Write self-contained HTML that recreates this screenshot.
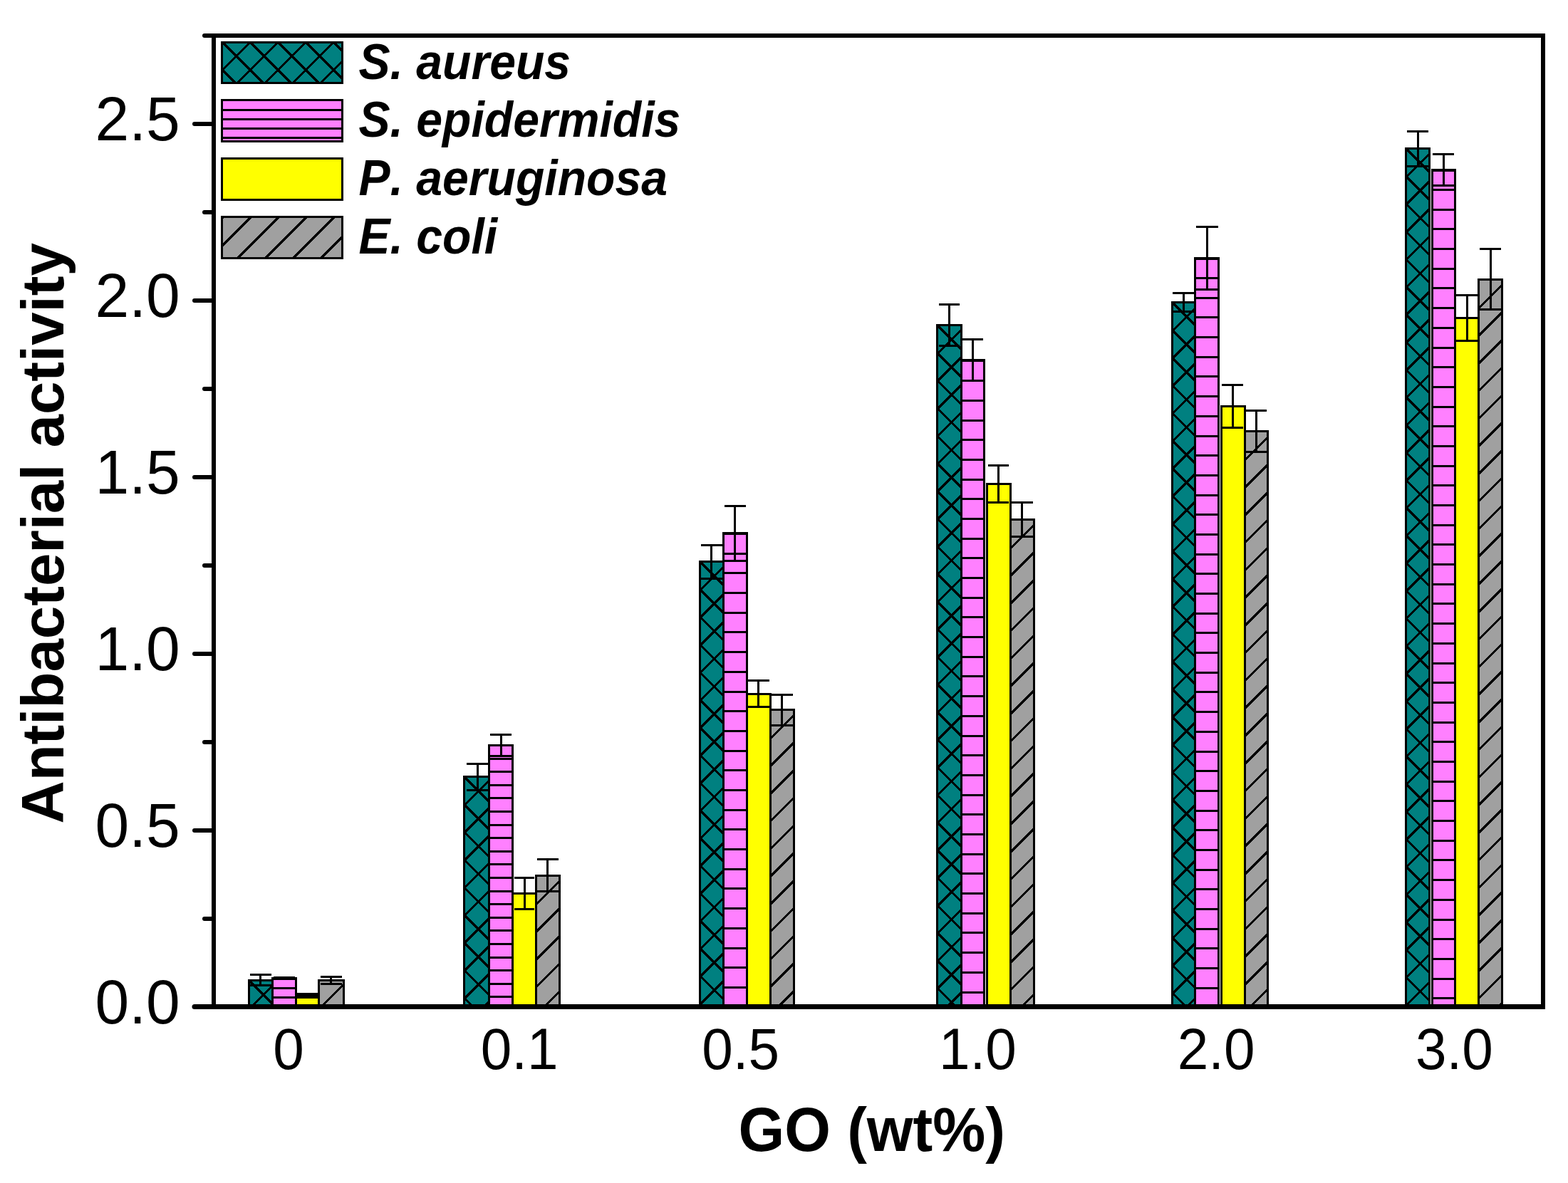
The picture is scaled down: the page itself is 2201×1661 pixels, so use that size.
<!DOCTYPE html>
<html lang="en"><head><meta charset="utf-8"><title>Antibacterial activity vs GO (wt%)</title>
<style>html,body{margin:0;padding:0;background:#fff;}body{width:2201px;height:1661px;overflow:hidden;}svg{display:block;}text{font-family:"Liberation Sans",Arial,Helvetica,sans-serif;fill:#000;font-kerning:none;font-variant-ligatures:none;}</style></head><body>
<svg width="2201" height="1661" viewBox="0 0 2201 1661" role="img" aria-label="Bar chart of antibacterial activity versus GO content">
<rect width="2201" height="1661" fill="#fff"/>
<g id="bars">
<rect x="348" y="1375" width="36" height="39" fill="#008080" shape-rendering="crispEdges"/><clipPath id="c1"><rect x="348" y="1375" width="36" height="39"/></clipPath><g clip-path="url(#c1)" stroke="#000" stroke-width="3.2" fill="none" shape-rendering="crispEdges"><path d="M343.00 1307.09L389.00 1261.09M343.00 1345.86L389.00 1299.86M343.00 1384.63L389.00 1338.63M343.00 1423.40L389.00 1377.40M343.00 1462.17L389.00 1416.17M343.00 1500.94L389.00 1454.94M343.00 1486.51L389.00 1532.51M343.00 1447.74L389.00 1493.74M343.00 1408.97L389.00 1454.97M343.00 1370.20L389.00 1416.20M343.00 1331.43L389.00 1377.43M343.00 1292.66L389.00 1338.66"/></g><rect x="349.5" y="1376.5" width="33" height="36" fill="none" stroke="#000" stroke-width="3" shape-rendering="crispEdges"/>
<rect x="364" y="1367" width="3" height="18" fill="#000" shape-rendering="crispEdges"/><rect x="351" y="1367" width="30" height="3" fill="#000" shape-rendering="crispEdges"/><rect x="351" y="1382" width="30" height="3" fill="#000" shape-rendering="crispEdges"/>
<rect x="650" y="1089" width="38" height="325" fill="#008080" shape-rendering="crispEdges"/><clipPath id="c2"><rect x="650" y="1089" width="38" height="325"/></clipPath><g clip-path="url(#c2)" stroke="#000" stroke-width="3.2" fill="none" shape-rendering="crispEdges"><path d="M645.00 1021.09L693.00 973.09M645.00 1059.86L693.00 1011.86M645.00 1098.63L693.00 1050.63M645.00 1137.40L693.00 1089.40M645.00 1176.17L693.00 1128.17M645.00 1214.94L693.00 1166.94M645.00 1253.71L693.00 1205.71M645.00 1292.48L693.00 1244.48M645.00 1331.25L693.00 1283.25M645.00 1370.02L693.00 1322.02M645.00 1408.79L693.00 1360.79M645.00 1447.56L693.00 1399.56M645.00 1486.33L693.00 1438.33M645.00 1525.10L693.00 1477.10M645.00 1471.90L693.00 1519.90M645.00 1433.13L693.00 1481.13M645.00 1394.36L693.00 1442.36M645.00 1355.59L693.00 1403.59M645.00 1316.82L693.00 1364.82M645.00 1278.05L693.00 1326.05M645.00 1239.28L693.00 1287.28M645.00 1200.51L693.00 1248.51M645.00 1161.74L693.00 1209.74M645.00 1122.97L693.00 1170.97M645.00 1084.20L693.00 1132.20M645.00 1045.43L693.00 1093.43M645.00 1006.66L693.00 1054.66"/></g><rect x="651.5" y="1090.5" width="35" height="322" fill="none" stroke="#000" stroke-width="3" shape-rendering="crispEdges"/>
<rect x="669" y="1071" width="3" height="40" fill="#000" shape-rendering="crispEdges"/><rect x="655" y="1071" width="30" height="3" fill="#000" shape-rendering="crispEdges"/><rect x="655" y="1108" width="30" height="3" fill="#000" shape-rendering="crispEdges"/>
<rect x="981" y="787" width="36" height="627" fill="#008080" shape-rendering="crispEdges"/><clipPath id="c3"><rect x="981" y="787" width="36" height="627"/></clipPath><g clip-path="url(#c3)" stroke="#000" stroke-width="3.2" fill="none" shape-rendering="crispEdges"><path d="M976.00 719.09L1022.00 673.09M976.00 757.86L1022.00 711.86M976.00 796.63L1022.00 750.63M976.00 835.40L1022.00 789.40M976.00 874.17L1022.00 828.17M976.00 912.94L1022.00 866.94M976.00 951.71L1022.00 905.71M976.00 990.48L1022.00 944.48M976.00 1029.25L1022.00 983.25M976.00 1068.02L1022.00 1022.02M976.00 1106.79L1022.00 1060.79M976.00 1145.56L1022.00 1099.56M976.00 1184.33L1022.00 1138.33M976.00 1223.10L1022.00 1177.10M976.00 1261.87L1022.00 1215.87M976.00 1300.64L1022.00 1254.64M976.00 1339.41L1022.00 1293.41M976.00 1378.18L1022.00 1332.18M976.00 1416.95L1022.00 1370.95M976.00 1455.72L1022.00 1409.72M976.00 1494.49L1022.00 1448.49M976.00 1480.06L1022.00 1526.06M976.00 1441.29L1022.00 1487.29M976.00 1402.52L1022.00 1448.52M976.00 1363.75L1022.00 1409.75M976.00 1324.98L1022.00 1370.98M976.00 1286.21L1022.00 1332.21M976.00 1247.44L1022.00 1293.44M976.00 1208.67L1022.00 1254.67M976.00 1169.90L1022.00 1215.90M976.00 1131.13L1022.00 1177.13M976.00 1092.36L1022.00 1138.36M976.00 1053.59L1022.00 1099.59M976.00 1014.82L1022.00 1060.82M976.00 976.05L1022.00 1022.05M976.00 937.28L1022.00 983.28M976.00 898.51L1022.00 944.51M976.00 859.74L1022.00 905.74M976.00 820.97L1022.00 866.97M976.00 782.20L1022.00 828.20M976.00 743.43L1022.00 789.43M976.00 704.66L1022.00 750.66"/></g><rect x="982.5" y="788.5" width="33" height="624" fill="none" stroke="#000" stroke-width="3" shape-rendering="crispEdges"/>
<rect x="997" y="764" width="3" height="50" fill="#000" shape-rendering="crispEdges"/><rect x="984" y="764" width="30" height="3" fill="#000" shape-rendering="crispEdges"/><rect x="984" y="811" width="30" height="3" fill="#000" shape-rendering="crispEdges"/>
<rect x="1314" y="455" width="37" height="959" fill="#008080" shape-rendering="crispEdges"/><clipPath id="c4"><rect x="1314" y="455" width="37" height="959"/></clipPath><g clip-path="url(#c4)" stroke="#000" stroke-width="3.2" fill="none" shape-rendering="crispEdges"><path d="M1309.00 387.09L1356.00 340.09M1309.00 425.86L1356.00 378.86M1309.00 464.63L1356.00 417.63M1309.00 503.40L1356.00 456.40M1309.00 542.17L1356.00 495.17M1309.00 580.94L1356.00 533.94M1309.00 619.71L1356.00 572.71M1309.00 658.48L1356.00 611.48M1309.00 697.25L1356.00 650.25M1309.00 736.02L1356.00 689.02M1309.00 774.79L1356.00 727.79M1309.00 813.56L1356.00 766.56M1309.00 852.33L1356.00 805.33M1309.00 891.10L1356.00 844.10M1309.00 929.87L1356.00 882.87M1309.00 968.64L1356.00 921.64M1309.00 1007.41L1356.00 960.41M1309.00 1046.18L1356.00 999.18M1309.00 1084.95L1356.00 1037.95M1309.00 1123.72L1356.00 1076.72M1309.00 1162.49L1356.00 1115.49M1309.00 1201.26L1356.00 1154.26M1309.00 1240.03L1356.00 1193.03M1309.00 1278.80L1356.00 1231.80M1309.00 1317.57L1356.00 1270.57M1309.00 1356.34L1356.00 1309.34M1309.00 1395.11L1356.00 1348.11M1309.00 1433.88L1356.00 1386.88M1309.00 1472.65L1356.00 1425.65M1309.00 1511.42L1356.00 1464.42M1309.00 1458.22L1356.00 1505.22M1309.00 1419.45L1356.00 1466.45M1309.00 1380.68L1356.00 1427.68M1309.00 1341.91L1356.00 1388.91M1309.00 1303.14L1356.00 1350.14M1309.00 1264.37L1356.00 1311.37M1309.00 1225.60L1356.00 1272.60M1309.00 1186.83L1356.00 1233.83M1309.00 1148.06L1356.00 1195.06M1309.00 1109.29L1356.00 1156.29M1309.00 1070.52L1356.00 1117.52M1309.00 1031.75L1356.00 1078.75M1309.00 992.98L1356.00 1039.98M1309.00 954.21L1356.00 1001.21M1309.00 915.44L1356.00 962.44M1309.00 876.67L1356.00 923.67M1309.00 837.90L1356.00 884.90M1309.00 799.13L1356.00 846.13M1309.00 760.36L1356.00 807.36M1309.00 721.59L1356.00 768.59M1309.00 682.82L1356.00 729.82M1309.00 644.05L1356.00 691.05M1309.00 605.28L1356.00 652.28M1309.00 566.51L1356.00 613.51M1309.00 527.74L1356.00 574.74M1309.00 488.97L1356.00 535.97M1309.00 450.20L1356.00 497.20M1309.00 411.43L1356.00 458.43M1309.00 372.66L1356.00 419.66"/></g><rect x="1315.5" y="456.5" width="34" height="956" fill="none" stroke="#000" stroke-width="3" shape-rendering="crispEdges"/>
<rect x="1331" y="426" width="3" height="61" fill="#000" shape-rendering="crispEdges"/><rect x="1318" y="426" width="29" height="3" fill="#000" shape-rendering="crispEdges"/><rect x="1318" y="484" width="29" height="3" fill="#000" shape-rendering="crispEdges"/>
<rect x="1644" y="423" width="35" height="991" fill="#008080" shape-rendering="crispEdges"/><clipPath id="c5"><rect x="1644" y="423" width="35" height="991"/></clipPath><g clip-path="url(#c5)" stroke="#000" stroke-width="3.2" fill="none" shape-rendering="crispEdges"><path d="M1639.00 355.09L1684.00 310.09M1639.00 393.86L1684.00 348.86M1639.00 432.63L1684.00 387.63M1639.00 471.40L1684.00 426.40M1639.00 510.17L1684.00 465.17M1639.00 548.94L1684.00 503.94M1639.00 587.71L1684.00 542.71M1639.00 626.48L1684.00 581.48M1639.00 665.25L1684.00 620.25M1639.00 704.02L1684.00 659.02M1639.00 742.79L1684.00 697.79M1639.00 781.56L1684.00 736.56M1639.00 820.33L1684.00 775.33M1639.00 859.10L1684.00 814.10M1639.00 897.87L1684.00 852.87M1639.00 936.64L1684.00 891.64M1639.00 975.41L1684.00 930.41M1639.00 1014.18L1684.00 969.18M1639.00 1052.95L1684.00 1007.95M1639.00 1091.72L1684.00 1046.72M1639.00 1130.49L1684.00 1085.49M1639.00 1169.26L1684.00 1124.26M1639.00 1208.03L1684.00 1163.03M1639.00 1246.80L1684.00 1201.80M1639.00 1285.57L1684.00 1240.57M1639.00 1324.34L1684.00 1279.34M1639.00 1363.11L1684.00 1318.11M1639.00 1401.88L1684.00 1356.88M1639.00 1440.65L1684.00 1395.65M1639.00 1479.42L1684.00 1434.42M1639.00 1518.19L1684.00 1473.19M1639.00 1464.99L1684.00 1509.99M1639.00 1426.22L1684.00 1471.22M1639.00 1387.45L1684.00 1432.45M1639.00 1348.68L1684.00 1393.68M1639.00 1309.91L1684.00 1354.91M1639.00 1271.14L1684.00 1316.14M1639.00 1232.37L1684.00 1277.37M1639.00 1193.60L1684.00 1238.60M1639.00 1154.83L1684.00 1199.83M1639.00 1116.06L1684.00 1161.06M1639.00 1077.29L1684.00 1122.29M1639.00 1038.52L1684.00 1083.52M1639.00 999.75L1684.00 1044.75M1639.00 960.98L1684.00 1005.98M1639.00 922.21L1684.00 967.21M1639.00 883.44L1684.00 928.44M1639.00 844.67L1684.00 889.67M1639.00 805.90L1684.00 850.90M1639.00 767.13L1684.00 812.13M1639.00 728.36L1684.00 773.36M1639.00 689.59L1684.00 734.59M1639.00 650.82L1684.00 695.82M1639.00 612.05L1684.00 657.05M1639.00 573.28L1684.00 618.28M1639.00 534.51L1684.00 579.51M1639.00 495.74L1684.00 540.74M1639.00 456.97L1684.00 501.97M1639.00 418.20L1684.00 463.20M1639.00 379.43L1684.00 424.43M1639.00 340.66L1684.00 385.66"/></g><rect x="1645.5" y="424.5" width="32" height="988" fill="none" stroke="#000" stroke-width="3" shape-rendering="crispEdges"/>
<rect x="1660" y="410" width="3" height="29" fill="#000" shape-rendering="crispEdges"/><rect x="1646" y="410" width="30" height="3" fill="#000" shape-rendering="crispEdges"/><rect x="1646" y="436" width="30" height="3" fill="#000" shape-rendering="crispEdges"/>
<rect x="1972" y="207" width="36" height="1207" fill="#008080" shape-rendering="crispEdges"/><clipPath id="c6"><rect x="1972" y="207" width="36" height="1207"/></clipPath><g clip-path="url(#c6)" stroke="#000" stroke-width="3.2" fill="none" shape-rendering="crispEdges"><path d="M1967.00 139.09L2013.00 93.09M1967.00 177.86L2013.00 131.86M1967.00 216.63L2013.00 170.63M1967.00 255.40L2013.00 209.40M1967.00 294.17L2013.00 248.17M1967.00 332.94L2013.00 286.94M1967.00 371.71L2013.00 325.71M1967.00 410.48L2013.00 364.48M1967.00 449.25L2013.00 403.25M1967.00 488.02L2013.00 442.02M1967.00 526.79L2013.00 480.79M1967.00 565.56L2013.00 519.56M1967.00 604.33L2013.00 558.33M1967.00 643.10L2013.00 597.10M1967.00 681.87L2013.00 635.87M1967.00 720.64L2013.00 674.64M1967.00 759.41L2013.00 713.41M1967.00 798.18L2013.00 752.18M1967.00 836.95L2013.00 790.95M1967.00 875.72L2013.00 829.72M1967.00 914.49L2013.00 868.49M1967.00 953.26L2013.00 907.26M1967.00 992.03L2013.00 946.03M1967.00 1030.80L2013.00 984.80M1967.00 1069.57L2013.00 1023.57M1967.00 1108.34L2013.00 1062.34M1967.00 1147.11L2013.00 1101.11M1967.00 1185.88L2013.00 1139.88M1967.00 1224.65L2013.00 1178.65M1967.00 1263.42L2013.00 1217.42M1967.00 1302.19L2013.00 1256.19M1967.00 1340.96L2013.00 1294.96M1967.00 1379.73L2013.00 1333.73M1967.00 1418.50L2013.00 1372.50M1967.00 1457.27L2013.00 1411.27M1967.00 1496.04L2013.00 1450.04M1967.00 1481.61L2013.00 1527.61M1967.00 1442.84L2013.00 1488.84M1967.00 1404.07L2013.00 1450.07M1967.00 1365.30L2013.00 1411.30M1967.00 1326.53L2013.00 1372.53M1967.00 1287.76L2013.00 1333.76M1967.00 1248.99L2013.00 1294.99M1967.00 1210.22L2013.00 1256.22M1967.00 1171.45L2013.00 1217.45M1967.00 1132.68L2013.00 1178.68M1967.00 1093.91L2013.00 1139.91M1967.00 1055.14L2013.00 1101.14M1967.00 1016.37L2013.00 1062.37M1967.00 977.60L2013.00 1023.60M1967.00 938.83L2013.00 984.83M1967.00 900.06L2013.00 946.06M1967.00 861.29L2013.00 907.29M1967.00 822.52L2013.00 868.52M1967.00 783.75L2013.00 829.75M1967.00 744.98L2013.00 790.98M1967.00 706.21L2013.00 752.21M1967.00 667.44L2013.00 713.44M1967.00 628.67L2013.00 674.67M1967.00 589.90L2013.00 635.90M1967.00 551.13L2013.00 597.13M1967.00 512.36L2013.00 558.36M1967.00 473.59L2013.00 519.59M1967.00 434.82L2013.00 480.82M1967.00 396.05L2013.00 442.05M1967.00 357.28L2013.00 403.28M1967.00 318.51L2013.00 364.51M1967.00 279.74L2013.00 325.74M1967.00 240.97L2013.00 286.97M1967.00 202.20L2013.00 248.20M1967.00 163.43L2013.00 209.43M1967.00 124.66L2013.00 170.66"/></g><rect x="1973.5" y="208.5" width="33" height="1204" fill="none" stroke="#000" stroke-width="3" shape-rendering="crispEdges"/>
<rect x="1989" y="183" width="3" height="52" fill="#000" shape-rendering="crispEdges"/><rect x="1975" y="183" width="30" height="3" fill="#000" shape-rendering="crispEdges"/><rect x="1975" y="232" width="30" height="3" fill="#000" shape-rendering="crispEdges"/>
<rect x="381" y="1372" width="36" height="42" fill="#FF80FF" shape-rendering="crispEdges"/><clipPath id="c7"><rect x="381" y="1372" width="36" height="42"/></clipPath><g clip-path="url(#c7)" stroke="#000" stroke-width="3.2" fill="none" shape-rendering="crispEdges"></g><rect x="381" y="1373" width="36" height="3" fill="#000" clip-path="url(#c7)" shape-rendering="crispEdges"/><rect x="381" y="1386" width="36" height="3" fill="#000" clip-path="url(#c7)" shape-rendering="crispEdges"/><rect x="381" y="1399" width="36" height="3" fill="#000" clip-path="url(#c7)" shape-rendering="crispEdges"/><rect x="381" y="1412" width="36" height="3" fill="#000" clip-path="url(#c7)" shape-rendering="crispEdges"/><rect x="382.5" y="1373.5" width="33" height="39" fill="none" stroke="#000" stroke-width="3" shape-rendering="crispEdges"/>
<rect x="384" y="1371" width="30" height="3" fill="#000" shape-rendering="crispEdges"/><rect x="384" y="1373" width="30" height="3" fill="#000" shape-rendering="crispEdges"/>
<rect x="685" y="1045" width="36" height="369" fill="#FF80FF" shape-rendering="crispEdges"/><clipPath id="c8"><rect x="685" y="1045" width="36" height="369"/></clipPath><g clip-path="url(#c8)" stroke="#000" stroke-width="3.2" fill="none" shape-rendering="crispEdges"></g><rect x="685" y="1045" width="36" height="3" fill="#000" clip-path="url(#c8)" shape-rendering="crispEdges"/><rect x="685" y="1064" width="36" height="3" fill="#000" clip-path="url(#c8)" shape-rendering="crispEdges"/><rect x="685" y="1082" width="36" height="3" fill="#000" clip-path="url(#c8)" shape-rendering="crispEdges"/><rect x="685" y="1101" width="36" height="3" fill="#000" clip-path="url(#c8)" shape-rendering="crispEdges"/><rect x="685" y="1119" width="36" height="3" fill="#000" clip-path="url(#c8)" shape-rendering="crispEdges"/><rect x="685" y="1138" width="36" height="3" fill="#000" clip-path="url(#c8)" shape-rendering="crispEdges"/><rect x="685" y="1157" width="36" height="3" fill="#000" clip-path="url(#c8)" shape-rendering="crispEdges"/><rect x="685" y="1175" width="36" height="3" fill="#000" clip-path="url(#c8)" shape-rendering="crispEdges"/><rect x="685" y="1194" width="36" height="3" fill="#000" clip-path="url(#c8)" shape-rendering="crispEdges"/><rect x="685" y="1212" width="36" height="3" fill="#000" clip-path="url(#c8)" shape-rendering="crispEdges"/><rect x="685" y="1231" width="36" height="3" fill="#000" clip-path="url(#c8)" shape-rendering="crispEdges"/><rect x="685" y="1250" width="36" height="3" fill="#000" clip-path="url(#c8)" shape-rendering="crispEdges"/><rect x="685" y="1268" width="36" height="3" fill="#000" clip-path="url(#c8)" shape-rendering="crispEdges"/><rect x="685" y="1287" width="36" height="3" fill="#000" clip-path="url(#c8)" shape-rendering="crispEdges"/><rect x="685" y="1305" width="36" height="3" fill="#000" clip-path="url(#c8)" shape-rendering="crispEdges"/><rect x="685" y="1324" width="36" height="3" fill="#000" clip-path="url(#c8)" shape-rendering="crispEdges"/><rect x="685" y="1343" width="36" height="3" fill="#000" clip-path="url(#c8)" shape-rendering="crispEdges"/><rect x="685" y="1361" width="36" height="3" fill="#000" clip-path="url(#c8)" shape-rendering="crispEdges"/><rect x="685" y="1380" width="36" height="3" fill="#000" clip-path="url(#c8)" shape-rendering="crispEdges"/><rect x="685" y="1398" width="36" height="3" fill="#000" clip-path="url(#c8)" shape-rendering="crispEdges"/><rect x="686.5" y="1046.5" width="33" height="366" fill="none" stroke="#000" stroke-width="3" shape-rendering="crispEdges"/>
<rect x="702" y="1030" width="3" height="33" fill="#000" shape-rendering="crispEdges"/><rect x="688" y="1030" width="30" height="3" fill="#000" shape-rendering="crispEdges"/><rect x="688" y="1060" width="30" height="3" fill="#000" shape-rendering="crispEdges"/>
<rect x="1014" y="747" width="36" height="667" fill="#FF80FF" shape-rendering="crispEdges"/><clipPath id="c9"><rect x="1014" y="747" width="36" height="667"/></clipPath><g clip-path="url(#c9)" stroke="#000" stroke-width="3.2" fill="none" shape-rendering="crispEdges"></g><rect x="1014" y="748" width="36" height="3" fill="#000" clip-path="url(#c9)" shape-rendering="crispEdges"/><rect x="1014" y="776" width="36" height="3" fill="#000" clip-path="url(#c9)" shape-rendering="crispEdges"/><rect x="1014" y="803" width="36" height="3" fill="#000" clip-path="url(#c9)" shape-rendering="crispEdges"/><rect x="1014" y="831" width="36" height="3" fill="#000" clip-path="url(#c9)" shape-rendering="crispEdges"/><rect x="1014" y="859" width="36" height="3" fill="#000" clip-path="url(#c9)" shape-rendering="crispEdges"/><rect x="1014" y="886" width="36" height="3" fill="#000" clip-path="url(#c9)" shape-rendering="crispEdges"/><rect x="1014" y="914" width="36" height="3" fill="#000" clip-path="url(#c9)" shape-rendering="crispEdges"/><rect x="1014" y="942" width="36" height="3" fill="#000" clip-path="url(#c9)" shape-rendering="crispEdges"/><rect x="1014" y="970" width="36" height="3" fill="#000" clip-path="url(#c9)" shape-rendering="crispEdges"/><rect x="1014" y="997" width="36" height="3" fill="#000" clip-path="url(#c9)" shape-rendering="crispEdges"/><rect x="1014" y="1025" width="36" height="3" fill="#000" clip-path="url(#c9)" shape-rendering="crispEdges"/><rect x="1014" y="1053" width="36" height="3" fill="#000" clip-path="url(#c9)" shape-rendering="crispEdges"/><rect x="1014" y="1080" width="36" height="3" fill="#000" clip-path="url(#c9)" shape-rendering="crispEdges"/><rect x="1014" y="1108" width="36" height="3" fill="#000" clip-path="url(#c9)" shape-rendering="crispEdges"/><rect x="1014" y="1136" width="36" height="3" fill="#000" clip-path="url(#c9)" shape-rendering="crispEdges"/><rect x="1014" y="1163" width="36" height="3" fill="#000" clip-path="url(#c9)" shape-rendering="crispEdges"/><rect x="1014" y="1191" width="36" height="3" fill="#000" clip-path="url(#c9)" shape-rendering="crispEdges"/><rect x="1014" y="1219" width="36" height="3" fill="#000" clip-path="url(#c9)" shape-rendering="crispEdges"/><rect x="1014" y="1246" width="36" height="3" fill="#000" clip-path="url(#c9)" shape-rendering="crispEdges"/><rect x="1014" y="1274" width="36" height="3" fill="#000" clip-path="url(#c9)" shape-rendering="crispEdges"/><rect x="1014" y="1302" width="36" height="3" fill="#000" clip-path="url(#c9)" shape-rendering="crispEdges"/><rect x="1014" y="1330" width="36" height="3" fill="#000" clip-path="url(#c9)" shape-rendering="crispEdges"/><rect x="1014" y="1357" width="36" height="3" fill="#000" clip-path="url(#c9)" shape-rendering="crispEdges"/><rect x="1014" y="1385" width="36" height="3" fill="#000" clip-path="url(#c9)" shape-rendering="crispEdges"/><rect x="1014" y="1413" width="36" height="3" fill="#000" clip-path="url(#c9)" shape-rendering="crispEdges"/><rect x="1015.5" y="748.5" width="33" height="664" fill="none" stroke="#000" stroke-width="3" shape-rendering="crispEdges"/>
<rect x="1014" y="750" width="36" height="1" fill="#000" shape-rendering="crispEdges"/>
<rect x="1030" y="709" width="3" height="80" fill="#000" shape-rendering="crispEdges"/><rect x="1017" y="709" width="30" height="3" fill="#000" shape-rendering="crispEdges"/><rect x="1017" y="786" width="30" height="3" fill="#000" shape-rendering="crispEdges"/>
<rect x="1348" y="504" width="35" height="910" fill="#FF80FF" shape-rendering="crispEdges"/><clipPath id="c10"><rect x="1348" y="504" width="35" height="910"/></clipPath><g clip-path="url(#c10)" stroke="#000" stroke-width="3.2" fill="none" shape-rendering="crispEdges"></g><rect x="1348" y="505" width="35" height="3" fill="#000" clip-path="url(#c10)" shape-rendering="crispEdges"/><rect x="1348" y="533" width="35" height="3" fill="#000" clip-path="url(#c10)" shape-rendering="crispEdges"/><rect x="1348" y="561" width="35" height="3" fill="#000" clip-path="url(#c10)" shape-rendering="crispEdges"/><rect x="1348" y="589" width="35" height="3" fill="#000" clip-path="url(#c10)" shape-rendering="crispEdges"/><rect x="1348" y="616" width="35" height="3" fill="#000" clip-path="url(#c10)" shape-rendering="crispEdges"/><rect x="1348" y="644" width="35" height="3" fill="#000" clip-path="url(#c10)" shape-rendering="crispEdges"/><rect x="1348" y="672" width="35" height="3" fill="#000" clip-path="url(#c10)" shape-rendering="crispEdges"/><rect x="1348" y="699" width="35" height="3" fill="#000" clip-path="url(#c10)" shape-rendering="crispEdges"/><rect x="1348" y="727" width="35" height="3" fill="#000" clip-path="url(#c10)" shape-rendering="crispEdges"/><rect x="1348" y="755" width="35" height="3" fill="#000" clip-path="url(#c10)" shape-rendering="crispEdges"/><rect x="1348" y="782" width="35" height="3" fill="#000" clip-path="url(#c10)" shape-rendering="crispEdges"/><rect x="1348" y="810" width="35" height="3" fill="#000" clip-path="url(#c10)" shape-rendering="crispEdges"/><rect x="1348" y="838" width="35" height="3" fill="#000" clip-path="url(#c10)" shape-rendering="crispEdges"/><rect x="1348" y="865" width="35" height="3" fill="#000" clip-path="url(#c10)" shape-rendering="crispEdges"/><rect x="1348" y="893" width="35" height="3" fill="#000" clip-path="url(#c10)" shape-rendering="crispEdges"/><rect x="1348" y="921" width="35" height="3" fill="#000" clip-path="url(#c10)" shape-rendering="crispEdges"/><rect x="1348" y="948" width="35" height="3" fill="#000" clip-path="url(#c10)" shape-rendering="crispEdges"/><rect x="1348" y="976" width="35" height="3" fill="#000" clip-path="url(#c10)" shape-rendering="crispEdges"/><rect x="1348" y="1004" width="35" height="3" fill="#000" clip-path="url(#c10)" shape-rendering="crispEdges"/><rect x="1348" y="1032" width="35" height="3" fill="#000" clip-path="url(#c10)" shape-rendering="crispEdges"/><rect x="1348" y="1059" width="35" height="3" fill="#000" clip-path="url(#c10)" shape-rendering="crispEdges"/><rect x="1348" y="1087" width="35" height="3" fill="#000" clip-path="url(#c10)" shape-rendering="crispEdges"/><rect x="1348" y="1115" width="35" height="3" fill="#000" clip-path="url(#c10)" shape-rendering="crispEdges"/><rect x="1348" y="1142" width="35" height="3" fill="#000" clip-path="url(#c10)" shape-rendering="crispEdges"/><rect x="1348" y="1170" width="35" height="3" fill="#000" clip-path="url(#c10)" shape-rendering="crispEdges"/><rect x="1348" y="1198" width="35" height="3" fill="#000" clip-path="url(#c10)" shape-rendering="crispEdges"/><rect x="1348" y="1225" width="35" height="3" fill="#000" clip-path="url(#c10)" shape-rendering="crispEdges"/><rect x="1348" y="1253" width="35" height="3" fill="#000" clip-path="url(#c10)" shape-rendering="crispEdges"/><rect x="1348" y="1281" width="35" height="3" fill="#000" clip-path="url(#c10)" shape-rendering="crispEdges"/><rect x="1348" y="1308" width="35" height="3" fill="#000" clip-path="url(#c10)" shape-rendering="crispEdges"/><rect x="1348" y="1336" width="35" height="3" fill="#000" clip-path="url(#c10)" shape-rendering="crispEdges"/><rect x="1348" y="1364" width="35" height="3" fill="#000" clip-path="url(#c10)" shape-rendering="crispEdges"/><rect x="1348" y="1392" width="35" height="3" fill="#000" clip-path="url(#c10)" shape-rendering="crispEdges"/><rect x="1349.5" y="505.5" width="32" height="907" fill="none" stroke="#000" stroke-width="3" shape-rendering="crispEdges"/>
<rect x="1348" y="507" width="35" height="1" fill="#000" shape-rendering="crispEdges"/>
<rect x="1364" y="475" width="3" height="61" fill="#000" shape-rendering="crispEdges"/><rect x="1351" y="475" width="29" height="3" fill="#000" shape-rendering="crispEdges"/><rect x="1351" y="533" width="29" height="3" fill="#000" shape-rendering="crispEdges"/>
<rect x="1676" y="361" width="36" height="1053" fill="#FF80FF" shape-rendering="crispEdges"/><clipPath id="c11"><rect x="1676" y="361" width="36" height="1053"/></clipPath><g clip-path="url(#c11)" stroke="#000" stroke-width="3.2" fill="none" shape-rendering="crispEdges"></g><rect x="1676" y="361" width="36" height="3" fill="#000" clip-path="url(#c11)" shape-rendering="crispEdges"/><rect x="1676" y="389" width="36" height="3" fill="#000" clip-path="url(#c11)" shape-rendering="crispEdges"/><rect x="1676" y="417" width="36" height="3" fill="#000" clip-path="url(#c11)" shape-rendering="crispEdges"/><rect x="1676" y="444" width="36" height="3" fill="#000" clip-path="url(#c11)" shape-rendering="crispEdges"/><rect x="1676" y="472" width="36" height="3" fill="#000" clip-path="url(#c11)" shape-rendering="crispEdges"/><rect x="1676" y="500" width="36" height="3" fill="#000" clip-path="url(#c11)" shape-rendering="crispEdges"/><rect x="1676" y="527" width="36" height="3" fill="#000" clip-path="url(#c11)" shape-rendering="crispEdges"/><rect x="1676" y="555" width="36" height="3" fill="#000" clip-path="url(#c11)" shape-rendering="crispEdges"/><rect x="1676" y="583" width="36" height="3" fill="#000" clip-path="url(#c11)" shape-rendering="crispEdges"/><rect x="1676" y="611" width="36" height="3" fill="#000" clip-path="url(#c11)" shape-rendering="crispEdges"/><rect x="1676" y="638" width="36" height="3" fill="#000" clip-path="url(#c11)" shape-rendering="crispEdges"/><rect x="1676" y="666" width="36" height="3" fill="#000" clip-path="url(#c11)" shape-rendering="crispEdges"/><rect x="1676" y="694" width="36" height="3" fill="#000" clip-path="url(#c11)" shape-rendering="crispEdges"/><rect x="1676" y="721" width="36" height="3" fill="#000" clip-path="url(#c11)" shape-rendering="crispEdges"/><rect x="1676" y="749" width="36" height="3" fill="#000" clip-path="url(#c11)" shape-rendering="crispEdges"/><rect x="1676" y="777" width="36" height="3" fill="#000" clip-path="url(#c11)" shape-rendering="crispEdges"/><rect x="1676" y="804" width="36" height="3" fill="#000" clip-path="url(#c11)" shape-rendering="crispEdges"/><rect x="1676" y="832" width="36" height="3" fill="#000" clip-path="url(#c11)" shape-rendering="crispEdges"/><rect x="1676" y="860" width="36" height="3" fill="#000" clip-path="url(#c11)" shape-rendering="crispEdges"/><rect x="1676" y="887" width="36" height="3" fill="#000" clip-path="url(#c11)" shape-rendering="crispEdges"/><rect x="1676" y="915" width="36" height="3" fill="#000" clip-path="url(#c11)" shape-rendering="crispEdges"/><rect x="1676" y="943" width="36" height="3" fill="#000" clip-path="url(#c11)" shape-rendering="crispEdges"/><rect x="1676" y="970" width="36" height="3" fill="#000" clip-path="url(#c11)" shape-rendering="crispEdges"/><rect x="1676" y="998" width="36" height="3" fill="#000" clip-path="url(#c11)" shape-rendering="crispEdges"/><rect x="1676" y="1026" width="36" height="3" fill="#000" clip-path="url(#c11)" shape-rendering="crispEdges"/><rect x="1676" y="1054" width="36" height="3" fill="#000" clip-path="url(#c11)" shape-rendering="crispEdges"/><rect x="1676" y="1081" width="36" height="3" fill="#000" clip-path="url(#c11)" shape-rendering="crispEdges"/><rect x="1676" y="1109" width="36" height="3" fill="#000" clip-path="url(#c11)" shape-rendering="crispEdges"/><rect x="1676" y="1137" width="36" height="3" fill="#000" clip-path="url(#c11)" shape-rendering="crispEdges"/><rect x="1676" y="1164" width="36" height="3" fill="#000" clip-path="url(#c11)" shape-rendering="crispEdges"/><rect x="1676" y="1192" width="36" height="3" fill="#000" clip-path="url(#c11)" shape-rendering="crispEdges"/><rect x="1676" y="1220" width="36" height="3" fill="#000" clip-path="url(#c11)" shape-rendering="crispEdges"/><rect x="1676" y="1247" width="36" height="3" fill="#000" clip-path="url(#c11)" shape-rendering="crispEdges"/><rect x="1676" y="1275" width="36" height="3" fill="#000" clip-path="url(#c11)" shape-rendering="crispEdges"/><rect x="1676" y="1303" width="36" height="3" fill="#000" clip-path="url(#c11)" shape-rendering="crispEdges"/><rect x="1676" y="1330" width="36" height="3" fill="#000" clip-path="url(#c11)" shape-rendering="crispEdges"/><rect x="1676" y="1358" width="36" height="3" fill="#000" clip-path="url(#c11)" shape-rendering="crispEdges"/><rect x="1676" y="1386" width="36" height="3" fill="#000" clip-path="url(#c11)" shape-rendering="crispEdges"/><rect x="1676" y="1414" width="36" height="3" fill="#000" clip-path="url(#c11)" shape-rendering="crispEdges"/><rect x="1677.5" y="362.5" width="33" height="1050" fill="none" stroke="#000" stroke-width="3" shape-rendering="crispEdges"/>
<rect x="1676" y="364" width="36" height="1" fill="#000" shape-rendering="crispEdges"/>
<rect x="1693" y="317" width="3" height="91" fill="#000" shape-rendering="crispEdges"/><rect x="1679" y="317" width="31" height="3" fill="#000" shape-rendering="crispEdges"/><rect x="1679" y="405" width="31" height="3" fill="#000" shape-rendering="crispEdges"/>
<rect x="2009" y="237" width="35" height="1177" fill="#FF80FF" shape-rendering="crispEdges"/><clipPath id="c12"><rect x="2009" y="237" width="35" height="1177"/></clipPath><g clip-path="url(#c12)" stroke="#000" stroke-width="3.2" fill="none" shape-rendering="crispEdges"></g><rect x="2009" y="237" width="35" height="3" fill="#000" clip-path="url(#c12)" shape-rendering="crispEdges"/><rect x="2009" y="265" width="35" height="3" fill="#000" clip-path="url(#c12)" shape-rendering="crispEdges"/><rect x="2009" y="293" width="35" height="3" fill="#000" clip-path="url(#c12)" shape-rendering="crispEdges"/><rect x="2009" y="320" width="35" height="3" fill="#000" clip-path="url(#c12)" shape-rendering="crispEdges"/><rect x="2009" y="348" width="35" height="3" fill="#000" clip-path="url(#c12)" shape-rendering="crispEdges"/><rect x="2009" y="376" width="35" height="3" fill="#000" clip-path="url(#c12)" shape-rendering="crispEdges"/><rect x="2009" y="403" width="35" height="3" fill="#000" clip-path="url(#c12)" shape-rendering="crispEdges"/><rect x="2009" y="431" width="35" height="3" fill="#000" clip-path="url(#c12)" shape-rendering="crispEdges"/><rect x="2009" y="459" width="35" height="3" fill="#000" clip-path="url(#c12)" shape-rendering="crispEdges"/><rect x="2009" y="487" width="35" height="3" fill="#000" clip-path="url(#c12)" shape-rendering="crispEdges"/><rect x="2009" y="514" width="35" height="3" fill="#000" clip-path="url(#c12)" shape-rendering="crispEdges"/><rect x="2009" y="542" width="35" height="3" fill="#000" clip-path="url(#c12)" shape-rendering="crispEdges"/><rect x="2009" y="570" width="35" height="3" fill="#000" clip-path="url(#c12)" shape-rendering="crispEdges"/><rect x="2009" y="597" width="35" height="3" fill="#000" clip-path="url(#c12)" shape-rendering="crispEdges"/><rect x="2009" y="625" width="35" height="3" fill="#000" clip-path="url(#c12)" shape-rendering="crispEdges"/><rect x="2009" y="653" width="35" height="3" fill="#000" clip-path="url(#c12)" shape-rendering="crispEdges"/><rect x="2009" y="680" width="35" height="3" fill="#000" clip-path="url(#c12)" shape-rendering="crispEdges"/><rect x="2009" y="708" width="35" height="3" fill="#000" clip-path="url(#c12)" shape-rendering="crispEdges"/><rect x="2009" y="736" width="35" height="3" fill="#000" clip-path="url(#c12)" shape-rendering="crispEdges"/><rect x="2009" y="763" width="35" height="3" fill="#000" clip-path="url(#c12)" shape-rendering="crispEdges"/><rect x="2009" y="791" width="35" height="3" fill="#000" clip-path="url(#c12)" shape-rendering="crispEdges"/><rect x="2009" y="819" width="35" height="3" fill="#000" clip-path="url(#c12)" shape-rendering="crispEdges"/><rect x="2009" y="846" width="35" height="3" fill="#000" clip-path="url(#c12)" shape-rendering="crispEdges"/><rect x="2009" y="874" width="35" height="3" fill="#000" clip-path="url(#c12)" shape-rendering="crispEdges"/><rect x="2009" y="902" width="35" height="3" fill="#000" clip-path="url(#c12)" shape-rendering="crispEdges"/><rect x="2009" y="930" width="35" height="3" fill="#000" clip-path="url(#c12)" shape-rendering="crispEdges"/><rect x="2009" y="957" width="35" height="3" fill="#000" clip-path="url(#c12)" shape-rendering="crispEdges"/><rect x="2009" y="985" width="35" height="3" fill="#000" clip-path="url(#c12)" shape-rendering="crispEdges"/><rect x="2009" y="1013" width="35" height="3" fill="#000" clip-path="url(#c12)" shape-rendering="crispEdges"/><rect x="2009" y="1040" width="35" height="3" fill="#000" clip-path="url(#c12)" shape-rendering="crispEdges"/><rect x="2009" y="1068" width="35" height="3" fill="#000" clip-path="url(#c12)" shape-rendering="crispEdges"/><rect x="2009" y="1096" width="35" height="3" fill="#000" clip-path="url(#c12)" shape-rendering="crispEdges"/><rect x="2009" y="1123" width="35" height="3" fill="#000" clip-path="url(#c12)" shape-rendering="crispEdges"/><rect x="2009" y="1151" width="35" height="3" fill="#000" clip-path="url(#c12)" shape-rendering="crispEdges"/><rect x="2009" y="1179" width="35" height="3" fill="#000" clip-path="url(#c12)" shape-rendering="crispEdges"/><rect x="2009" y="1206" width="35" height="3" fill="#000" clip-path="url(#c12)" shape-rendering="crispEdges"/><rect x="2009" y="1234" width="35" height="3" fill="#000" clip-path="url(#c12)" shape-rendering="crispEdges"/><rect x="2009" y="1262" width="35" height="3" fill="#000" clip-path="url(#c12)" shape-rendering="crispEdges"/><rect x="2009" y="1290" width="35" height="3" fill="#000" clip-path="url(#c12)" shape-rendering="crispEdges"/><rect x="2009" y="1317" width="35" height="3" fill="#000" clip-path="url(#c12)" shape-rendering="crispEdges"/><rect x="2009" y="1345" width="35" height="3" fill="#000" clip-path="url(#c12)" shape-rendering="crispEdges"/><rect x="2009" y="1373" width="35" height="3" fill="#000" clip-path="url(#c12)" shape-rendering="crispEdges"/><rect x="2009" y="1400" width="35" height="3" fill="#000" clip-path="url(#c12)" shape-rendering="crispEdges"/><rect x="2010.5" y="238.5" width="32" height="1174" fill="none" stroke="#000" stroke-width="3" shape-rendering="crispEdges"/>
<rect x="2009" y="240" width="35" height="1" fill="#000" shape-rendering="crispEdges"/>
<rect x="2025" y="215" width="3" height="47" fill="#000" shape-rendering="crispEdges"/><rect x="2011" y="215" width="30" height="3" fill="#000" shape-rendering="crispEdges"/><rect x="2011" y="259" width="30" height="3" fill="#000" shape-rendering="crispEdges"/>
<rect x="414" y="1396" width="36" height="18" fill="#FFFF00" shape-rendering="crispEdges"/><rect x="415.5" y="1397.5" width="33" height="15" fill="none" stroke="#000" stroke-width="3" shape-rendering="crispEdges"/>
<rect x="417" y="1394" width="30" height="3" fill="#000" shape-rendering="crispEdges"/><rect x="417" y="1399" width="30" height="3" fill="#000" shape-rendering="crispEdges"/>
<rect x="718" y="1253" width="36" height="161" fill="#FFFF00" shape-rendering="crispEdges"/><rect x="719.5" y="1254.5" width="33" height="158" fill="none" stroke="#000" stroke-width="3" shape-rendering="crispEdges"/>
<rect x="735" y="1231" width="3" height="47" fill="#000" shape-rendering="crispEdges"/><rect x="722" y="1231" width="28" height="3" fill="#000" shape-rendering="crispEdges"/><rect x="722" y="1275" width="28" height="3" fill="#000" shape-rendering="crispEdges"/>
<rect x="1047" y="973" width="36" height="441" fill="#FFFF00" shape-rendering="crispEdges"/><rect x="1048.5" y="974.5" width="33" height="438" fill="none" stroke="#000" stroke-width="3" shape-rendering="crispEdges"/>
<rect x="1063" y="954" width="3" height="40" fill="#000" shape-rendering="crispEdges"/><rect x="1050" y="954" width="30" height="3" fill="#000" shape-rendering="crispEdges"/><rect x="1050" y="991" width="30" height="3" fill="#000" shape-rendering="crispEdges"/>
<rect x="1384" y="678" width="36" height="736" fill="#FFFF00" shape-rendering="crispEdges"/><rect x="1385.5" y="679.5" width="33" height="733" fill="none" stroke="#000" stroke-width="3" shape-rendering="crispEdges"/>
<rect x="1400" y="652" width="3" height="55" fill="#000" shape-rendering="crispEdges"/><rect x="1387" y="652" width="29" height="3" fill="#000" shape-rendering="crispEdges"/><rect x="1387" y="704" width="29" height="3" fill="#000" shape-rendering="crispEdges"/>
<rect x="1713" y="569" width="36" height="845" fill="#FFFF00" shape-rendering="crispEdges"/><rect x="1714.5" y="570.5" width="33" height="842" fill="none" stroke="#000" stroke-width="3" shape-rendering="crispEdges"/>
<rect x="1729" y="539" width="3" height="63" fill="#000" shape-rendering="crispEdges"/><rect x="1715" y="539" width="30" height="3" fill="#000" shape-rendering="crispEdges"/><rect x="1715" y="599" width="30" height="3" fill="#000" shape-rendering="crispEdges"/>
<rect x="2041" y="445" width="36" height="969" fill="#FFFF00" shape-rendering="crispEdges"/><rect x="2042.5" y="446.5" width="33" height="966" fill="none" stroke="#000" stroke-width="3" shape-rendering="crispEdges"/>
<rect x="2058" y="413" width="3" height="67" fill="#000" shape-rendering="crispEdges"/><rect x="2044" y="413" width="30" height="3" fill="#000" shape-rendering="crispEdges"/><rect x="2044" y="477" width="30" height="3" fill="#000" shape-rendering="crispEdges"/>
<rect x="446" y="1375" width="38" height="39" fill="#A0A0A0" shape-rendering="crispEdges"/><clipPath id="c13"><rect x="446" y="1375" width="38" height="39"/></clipPath><g clip-path="url(#c13)" stroke="#000" stroke-width="3.2" fill="none" shape-rendering="crispEdges"><path d="M441.00 1306.96L489.00 1258.96M441.00 1345.73L489.00 1297.73M441.00 1384.50L489.00 1336.50M441.00 1423.27L489.00 1375.27M441.00 1462.04L489.00 1414.04M441.00 1500.81L489.00 1452.81"/></g><rect x="447.5" y="1376.5" width="35" height="36" fill="none" stroke="#000" stroke-width="3" shape-rendering="crispEdges"/>
<rect x="463" y="1370" width="3" height="13" fill="#000" shape-rendering="crispEdges"/><rect x="450" y="1370" width="30" height="3" fill="#000" shape-rendering="crispEdges"/><rect x="450" y="1380" width="30" height="3" fill="#000" shape-rendering="crispEdges"/>
<rect x="751" y="1228" width="36" height="186" fill="#A0A0A0" shape-rendering="crispEdges"/><clipPath id="c14"><rect x="751" y="1228" width="36" height="186"/></clipPath><g clip-path="url(#c14)" stroke="#000" stroke-width="3.2" fill="none" shape-rendering="crispEdges"><path d="M746.00 1159.96L792.00 1113.96M746.00 1198.73L792.00 1152.73M746.00 1237.50L792.00 1191.50M746.00 1276.27L792.00 1230.27M746.00 1315.04L792.00 1269.04M746.00 1353.81L792.00 1307.81M746.00 1392.58L792.00 1346.58M746.00 1431.35L792.00 1385.35M746.00 1470.12L792.00 1424.12M746.00 1508.89L792.00 1462.89"/></g><rect x="752.5" y="1229.5" width="33" height="183" fill="none" stroke="#000" stroke-width="3" shape-rendering="crispEdges"/>
<rect x="767" y="1205" width="3" height="48" fill="#000" shape-rendering="crispEdges"/><rect x="754" y="1205" width="30" height="3" fill="#000" shape-rendering="crispEdges"/><rect x="754" y="1250" width="30" height="3" fill="#000" shape-rendering="crispEdges"/>
<rect x="1080" y="995" width="36" height="419" fill="#A0A0A0" shape-rendering="crispEdges"/><clipPath id="c15"><rect x="1080" y="995" width="36" height="419"/></clipPath><g clip-path="url(#c15)" stroke="#000" stroke-width="3.2" fill="none" shape-rendering="crispEdges"><path d="M1075.00 926.96L1121.00 880.96M1075.00 965.73L1121.00 919.73M1075.00 1004.50L1121.00 958.50M1075.00 1043.27L1121.00 997.27M1075.00 1082.04L1121.00 1036.04M1075.00 1120.81L1121.00 1074.81M1075.00 1159.58L1121.00 1113.58M1075.00 1198.35L1121.00 1152.35M1075.00 1237.12L1121.00 1191.12M1075.00 1275.89L1121.00 1229.89M1075.00 1314.66L1121.00 1268.66M1075.00 1353.43L1121.00 1307.43M1075.00 1392.20L1121.00 1346.20M1075.00 1430.97L1121.00 1384.97M1075.00 1469.74L1121.00 1423.74M1075.00 1508.51L1121.00 1462.51"/></g><rect x="1081.5" y="996.5" width="33" height="416" fill="none" stroke="#000" stroke-width="3" shape-rendering="crispEdges"/>
<rect x="1096" y="974" width="3" height="46" fill="#000" shape-rendering="crispEdges"/><rect x="1083" y="974" width="30" height="3" fill="#000" shape-rendering="crispEdges"/><rect x="1083" y="1017" width="30" height="3" fill="#000" shape-rendering="crispEdges"/>
<rect x="1417" y="728" width="36" height="686" fill="#A0A0A0" shape-rendering="crispEdges"/><clipPath id="c16"><rect x="1417" y="728" width="36" height="686"/></clipPath><g clip-path="url(#c16)" stroke="#000" stroke-width="3.2" fill="none" shape-rendering="crispEdges"><path d="M1412.00 659.96L1458.00 613.96M1412.00 698.73L1458.00 652.73M1412.00 737.50L1458.00 691.50M1412.00 776.27L1458.00 730.27M1412.00 815.04L1458.00 769.04M1412.00 853.81L1458.00 807.81M1412.00 892.58L1458.00 846.58M1412.00 931.35L1458.00 885.35M1412.00 970.12L1458.00 924.12M1412.00 1008.89L1458.00 962.89M1412.00 1047.66L1458.00 1001.66M1412.00 1086.43L1458.00 1040.43M1412.00 1125.20L1458.00 1079.20M1412.00 1163.97L1458.00 1117.97M1412.00 1202.74L1458.00 1156.74M1412.00 1241.51L1458.00 1195.51M1412.00 1280.28L1458.00 1234.28M1412.00 1319.05L1458.00 1273.05M1412.00 1357.82L1458.00 1311.82M1412.00 1396.59L1458.00 1350.59M1412.00 1435.36L1458.00 1389.36M1412.00 1474.13L1458.00 1428.13M1412.00 1512.90L1458.00 1466.90"/></g><rect x="1418.5" y="729.5" width="33" height="683" fill="none" stroke="#000" stroke-width="3" shape-rendering="crispEdges"/>
<rect x="1433" y="704" width="3" height="51" fill="#000" shape-rendering="crispEdges"/><rect x="1420" y="704" width="30" height="3" fill="#000" shape-rendering="crispEdges"/><rect x="1420" y="752" width="30" height="3" fill="#000" shape-rendering="crispEdges"/>
<rect x="1746" y="604" width="35" height="810" fill="#A0A0A0" shape-rendering="crispEdges"/><clipPath id="c17"><rect x="1746" y="604" width="35" height="810"/></clipPath><g clip-path="url(#c17)" stroke="#000" stroke-width="3.2" fill="none" shape-rendering="crispEdges"><path d="M1741.00 535.96L1786.00 490.96M1741.00 574.73L1786.00 529.73M1741.00 613.50L1786.00 568.50M1741.00 652.27L1786.00 607.27M1741.00 691.04L1786.00 646.04M1741.00 729.81L1786.00 684.81M1741.00 768.58L1786.00 723.58M1741.00 807.35L1786.00 762.35M1741.00 846.12L1786.00 801.12M1741.00 884.89L1786.00 839.89M1741.00 923.66L1786.00 878.66M1741.00 962.43L1786.00 917.43M1741.00 1001.20L1786.00 956.20M1741.00 1039.97L1786.00 994.97M1741.00 1078.74L1786.00 1033.74M1741.00 1117.51L1786.00 1072.51M1741.00 1156.28L1786.00 1111.28M1741.00 1195.05L1786.00 1150.05M1741.00 1233.82L1786.00 1188.82M1741.00 1272.59L1786.00 1227.59M1741.00 1311.36L1786.00 1266.36M1741.00 1350.13L1786.00 1305.13M1741.00 1388.90L1786.00 1343.90M1741.00 1427.67L1786.00 1382.67M1741.00 1466.44L1786.00 1421.44M1741.00 1505.21L1786.00 1460.21"/></g><rect x="1747.5" y="605.5" width="32" height="807" fill="none" stroke="#000" stroke-width="3" shape-rendering="crispEdges"/>
<rect x="1762" y="575" width="3" height="61" fill="#000" shape-rendering="crispEdges"/><rect x="1749" y="575" width="29" height="3" fill="#000" shape-rendering="crispEdges"/><rect x="1749" y="633" width="29" height="3" fill="#000" shape-rendering="crispEdges"/>
<rect x="2074" y="391" width="36" height="1023" fill="#A0A0A0" shape-rendering="crispEdges"/><clipPath id="c18"><rect x="2074" y="391" width="36" height="1023"/></clipPath><g clip-path="url(#c18)" stroke="#000" stroke-width="3.2" fill="none" shape-rendering="crispEdges"><path d="M2069.00 322.96L2115.00 276.96M2069.00 361.73L2115.00 315.73M2069.00 400.50L2115.00 354.50M2069.00 439.27L2115.00 393.27M2069.00 478.04L2115.00 432.04M2069.00 516.81L2115.00 470.81M2069.00 555.58L2115.00 509.58M2069.00 594.35L2115.00 548.35M2069.00 633.12L2115.00 587.12M2069.00 671.89L2115.00 625.89M2069.00 710.66L2115.00 664.66M2069.00 749.43L2115.00 703.43M2069.00 788.20L2115.00 742.20M2069.00 826.97L2115.00 780.97M2069.00 865.74L2115.00 819.74M2069.00 904.51L2115.00 858.51M2069.00 943.28L2115.00 897.28M2069.00 982.05L2115.00 936.05M2069.00 1020.82L2115.00 974.82M2069.00 1059.59L2115.00 1013.59M2069.00 1098.36L2115.00 1052.36M2069.00 1137.13L2115.00 1091.13M2069.00 1175.90L2115.00 1129.90M2069.00 1214.67L2115.00 1168.67M2069.00 1253.44L2115.00 1207.44M2069.00 1292.21L2115.00 1246.21M2069.00 1330.98L2115.00 1284.98M2069.00 1369.75L2115.00 1323.75M2069.00 1408.52L2115.00 1362.52M2069.00 1447.29L2115.00 1401.29M2069.00 1486.06L2115.00 1440.06M2069.00 1524.83L2115.00 1478.83"/></g><rect x="2075.5" y="392.5" width="33" height="1020" fill="none" stroke="#000" stroke-width="3" shape-rendering="crispEdges"/>
<rect x="2091" y="348" width="3" height="88" fill="#000" shape-rendering="crispEdges"/><rect x="2077" y="348" width="30" height="3" fill="#000" shape-rendering="crispEdges"/><rect x="2077" y="433" width="30" height="3" fill="#000" shape-rendering="crispEdges"/>
</g>
<g id="axes" fill="#000" shape-rendering="crispEdges">
<rect x="297" y="47" width="6" height="1370"/>
<rect x="2163" y="47" width="6" height="1370"/>
<rect x="287" y="47" width="1882" height="6"/>
<rect x="273" y="1410" width="1896" height="7"/>
<rect x="273" y="1163" width="25" height="6"/>
<rect x="273" y="915" width="25" height="6"/>
<rect x="273" y="667" width="25" height="6"/>
<rect x="273" y="419" width="25" height="6"/>
<rect x="273" y="171" width="25" height="6"/>
<rect x="287" y="1287" width="11" height="6"/>
<rect x="287" y="1039" width="11" height="6"/>
<rect x="287" y="791" width="11" height="6"/>
<rect x="287" y="543" width="11" height="6"/>
<rect x="287" y="295" width="11" height="6"/>
</g>
<g id="tick-ends" fill="#000">
<circle cx="273" cy="1166" r="3"/>
<circle cx="273" cy="918" r="3"/>
<circle cx="273" cy="670" r="3"/>
<circle cx="273" cy="422" r="3"/>
<circle cx="273" cy="174" r="3"/>
<circle cx="287" cy="1290" r="3"/>
<circle cx="287" cy="1042" r="3"/>
<circle cx="287" cy="794" r="3"/>
<circle cx="287" cy="546" r="3"/>
<circle cx="287" cy="298" r="3"/>
<circle cx="287" cy="50" r="3"/>
<circle cx="273" cy="1413.5" r="3.5"/>
</g>
<g id="legend">
<rect x="310" y="58" width="172" height="60" fill="#008080" shape-rendering="crispEdges"/><clipPath id="c19"><rect x="310" y="58" width="172" height="60"/></clipPath><g clip-path="url(#c19)" stroke="#000" stroke-width="3.2" fill="none" shape-rendering="crispEdges"><path d="M305.00 -11.30L487.00 -193.30M305.00 27.70L487.00 -154.30M305.00 66.70L487.00 -115.30M305.00 105.70L487.00 -76.30M305.00 144.70L487.00 -37.30M305.00 183.70L487.00 1.70M305.00 222.70L487.00 40.70M305.00 261.70L487.00 79.70M305.00 300.70L487.00 118.70M305.00 339.70L487.00 157.70M305.00 168.90L487.00 350.90M305.00 129.90L487.00 311.90M305.00 90.90L487.00 272.90M305.00 51.90L487.00 233.90M305.00 12.90L487.00 194.90M305.00 -26.10L487.00 155.90M305.00 -65.10L487.00 116.90M305.00 -104.10L487.00 77.90M305.00 -143.10L487.00 38.90M305.00 -182.10L487.00 -0.10"/></g><rect x="311.5" y="59.5" width="169" height="57" fill="none" stroke="#000" stroke-width="3" shape-rendering="crispEdges"/>
<rect x="310" y="139" width="172" height="61" fill="#FF80FF" shape-rendering="crispEdges"/><clipPath id="c20"><rect x="310" y="139" width="172" height="61"/></clipPath><g clip-path="url(#c20)" stroke="#000" stroke-width="3.2" fill="none" shape-rendering="crispEdges"></g><rect x="310" y="139" width="172" height="3" fill="#000" clip-path="url(#c20)" shape-rendering="crispEdges"/><rect x="310" y="153" width="172" height="3" fill="#000" clip-path="url(#c20)" shape-rendering="crispEdges"/><rect x="310" y="166" width="172" height="3" fill="#000" clip-path="url(#c20)" shape-rendering="crispEdges"/><rect x="310" y="179" width="172" height="3" fill="#000" clip-path="url(#c20)" shape-rendering="crispEdges"/><rect x="310" y="192" width="172" height="3" fill="#000" clip-path="url(#c20)" shape-rendering="crispEdges"/><rect x="311.5" y="140.5" width="169" height="58" fill="none" stroke="#000" stroke-width="3" shape-rendering="crispEdges"/>
<rect x="310" y="221" width="172" height="61" fill="#FFFF00" shape-rendering="crispEdges"/><rect x="311.5" y="222.5" width="169" height="58" fill="none" stroke="#000" stroke-width="3" shape-rendering="crispEdges"/>
<rect x="310" y="303" width="172" height="61" fill="#A0A0A0" shape-rendering="crispEdges"/><clipPath id="c21"><rect x="310" y="303" width="172" height="61"/></clipPath><g clip-path="url(#c21)" stroke="#000" stroke-width="3.2" fill="none" shape-rendering="crispEdges"><path d="M305.00 235.20L487.00 53.20M305.00 274.20L487.00 92.20M305.00 313.20L487.00 131.20M305.00 352.20L487.00 170.20M305.00 391.20L487.00 209.20M305.00 430.20L487.00 248.20M305.00 469.20L487.00 287.20M305.00 508.20L487.00 326.20M305.00 547.20L487.00 365.20M305.00 586.20L487.00 404.20"/></g><rect x="311.5" y="304.5" width="169" height="58" fill="none" stroke="#000" stroke-width="3" shape-rendering="crispEdges"/>
</g>
<g id="labels">
<text transform="translate(252.60 1436.70) scale(0.9817 1)" font-size="87.30" font-weight="normal" font-style="normal" text-anchor="end">0.0</text>
<text transform="translate(252.60 1188.80) scale(0.9817 1)" font-size="87.30" font-weight="normal" font-style="normal" text-anchor="end">0.5</text>
<text transform="translate(252.60 940.90) scale(0.9817 1)" font-size="87.30" font-weight="normal" font-style="normal" text-anchor="end">1.0</text>
<text transform="translate(252.60 693.00) scale(0.9817 1)" font-size="87.30" font-weight="normal" font-style="normal" text-anchor="end">1.5</text>
<text transform="translate(252.60 445.10) scale(0.9817 1)" font-size="87.30" font-weight="normal" font-style="normal" text-anchor="end">2.0</text>
<text transform="translate(252.60 197.20) scale(0.9817 1)" font-size="87.30" font-weight="normal" font-style="normal" text-anchor="end">2.5</text>
<text transform="translate(405.00 1501.00) scale(0.9550 1)" font-size="82.00" font-weight="normal" font-style="normal" text-anchor="middle">0</text>
<text transform="translate(729.10 1501.00) scale(0.9550 1)" font-size="82.00" font-weight="normal" font-style="normal" text-anchor="middle">0.1</text>
<text transform="translate(1039.70 1501.00) scale(0.9550 1)" font-size="82.00" font-weight="normal" font-style="normal" text-anchor="middle">0.5</text>
<text transform="translate(1372.30 1501.00) scale(0.9550 1)" font-size="82.00" font-weight="normal" font-style="normal" text-anchor="middle">1.0</text>
<text transform="translate(1707.20 1501.00) scale(0.9550 1)" font-size="82.00" font-weight="normal" font-style="normal" text-anchor="middle">2.0</text>
<text transform="translate(2041.40 1501.00) scale(0.9550 1)" font-size="82.00" font-weight="normal" font-style="normal" text-anchor="middle">3.0</text>
<text transform="translate(89.10 1156.50) rotate(-90) scale(0.9924 1)" font-size="84.00" font-weight="bold" font-style="normal" text-anchor="start">Antibacterial activity</text>
<text transform="translate(1036.50 1616.20) scale(0.9570 1)" font-size="87.00" font-weight="bold" font-style="normal" text-anchor="start">GO (wt%)</text>
<text transform="translate(503.50 110.50) scale(0.9511 1)" font-size="69.50" font-weight="bold" font-style="italic" text-anchor="start">S. aureus</text>
<text transform="translate(503.50 192.00) scale(0.9511 1)" font-size="69.50" font-weight="bold" font-style="italic" text-anchor="start">S. epidermidis</text>
<text transform="translate(503.50 273.50) scale(0.9511 1)" font-size="69.50" font-weight="bold" font-style="italic" text-anchor="start">P. aeruginosa</text>
<text transform="translate(503.50 356.00) scale(0.9511 1)" font-size="69.50" font-weight="bold" font-style="italic" text-anchor="start">E. coli</text>
</g>
</svg></body></html>
